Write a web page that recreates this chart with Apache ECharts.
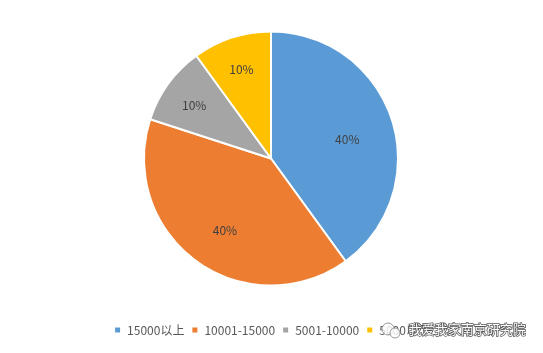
<!DOCTYPE html>
<html><head><meta charset="utf-8">
<script src="https://cdn.jsdelivr.net/npm/echarts@6/dist/echarts.min.js"></script>
<style>html,body{margin:0;padding:0;background:#fff}#c{width:543px;height:353px}</style>
</head><body><div id="c"></div>
<script>
const categories = ['15000以上', '10001-15000', '5001-10000', '5000以下'];
const values = [40, 40, 10, 10];
const colors = ['#5B9BD5', '#ED7D31', '#A5A5A5', '#FFC000'];
const labelOffsets = [[13, 1], [-7, 18], [-23, -14], [-9, -26]];

const chart = echarts.init(document.getElementById('c'), null, {renderer: 'canvas'});
const font = '"Noto Sans CJK SC", "Noto Sans", sans-serif';
chart.setOption({
  animation: false,
  backgroundColor: '#fff',
  color: colors,
  legend: {
    bottom: 12, left: 'center',
    icon: 'rect', itemWidth: 7, itemHeight: 7, itemGap: 6,
    textStyle: {color: '#595959', fontSize: 12, fontFamily: font, padding: [0, 0, 0, 1]},
    data: categories
  },
  series: [{
    type: 'pie',
    center: [271, 158.5],
    radius: [0, 127],
    startAngle: 90,
    clockwise: true,
    silent: true,
    itemStyle: {borderColor: '#fff', borderWidth: 2},
    label: {
      position: 'inside',
      color: '#404040', fontSize: 12, fontFamily: font,
      formatter: p => Math.round(p.percent) + '%'
    },
    labelLine: {show: false},
    data: categories.map((n, i) => ({name: n, value: values[i], label: {offset: labelOffsets[i]}}))
  }],
  graphic: [
    {type: 'circle', shape: {cx: 388, cy: 329, r: 6}, style: {fill: 'rgba(255,255,255,0.8)', stroke: '#999', lineWidth: 1}, z: 100},
    {type: 'circle', shape: {cx: 395, cy: 333, r: 5}, style: {fill: 'rgba(255,255,255,0.8)', stroke: '#999', lineWidth: 1}, z: 100},
    {type: 'text', left: 408, top: 322, z: 100,
     style: {text: '我爱我家南京研究院', fontSize: 13, fontFamily: font, fill: '#fff', stroke: '#555', lineWidth: 1.5}}
  ]
});
</script></body></html>
